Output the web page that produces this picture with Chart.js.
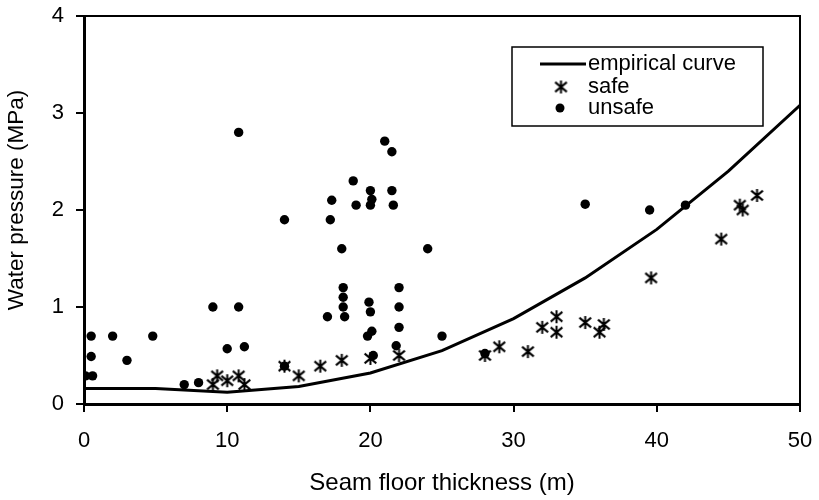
<!DOCTYPE html>
<html>
<head>
<meta charset="utf-8">
<script src="https://cdn.jsdelivr.net/npm/chart.js@4"></script>
<style>
  html, body { margin: 0; padding: 0; background: #fff; }
  #wrap { width: 819px; height: 500px; }
</style>
</head>
<body>
<div id="wrap"><canvas id="chart" width="819" height="500"></canvas></div>
<script>
// empirical curve
const curveX = [0, 5, 10, 15, 20, 25, 30, 35, 40, 45, 50];
const curveY = [0.16, 0.16, 0.12, 0.18, 0.32, 0.55, 0.88, 1.30, 1.80, 2.40, 3.08];

// safe cases
const safeX = [9.0, 9.3, 10.0, 10.8, 11.2, 14.0, 15.0, 16.5, 18.0, 20.0, 22.0, 28.0, 29.0, 31.0, 32.0, 33.0, 33.0, 35.0, 36.0, 36.3, 39.6, 44.5, 45.8, 46.0, 47.0];
const safeY = [0.20, 0.29, 0.24, 0.29, 0.20, 0.39, 0.29, 0.39, 0.45, 0.47, 0.50, 0.50, 0.59, 0.54, 0.79, 0.90, 0.74, 0.84, 0.74, 0.82, 1.30, 1.70, 2.05, 2.00, 2.15];

// unsafe cases
const unsafeX = [10.8, 9.0, 10.8, 0.5, 2.0, 4.8, 10.0, 11.2, 0.5, 3.0, 0.1, 0.6, 7.0, 8.0,
  21.0, 21.5, 18.8, 20.0, 21.5, 17.3, 20.1, 19.0, 20.0, 21.6, 14.0, 17.2, 18.0, 24.0,
  18.1, 22.0, 18.1, 18.1, 22.0, 19.9, 17.0, 18.2, 20.0, 22.0, 20.1, 19.8, 21.8, 20.2,
  14.0, 25.0, 28.0, 35.0, 39.5, 42.0];
const unsafeY = [2.80, 1.00, 1.00, 0.70, 0.70, 0.70, 0.57, 0.59, 0.49, 0.45, 0.29, 0.29, 0.20, 0.22,
  2.71, 2.60, 2.30, 2.20, 2.20, 2.10, 2.11, 2.05, 2.05, 2.05, 1.90, 1.90, 1.60, 1.60,
  1.20, 1.20, 1.10, 1.00, 1.00, 1.05, 0.90, 0.90, 0.95, 0.79, 0.75, 0.70, 0.60, 0.50,
  0.39, 0.70, 0.52, 2.06, 2.00, 2.05];

const xTicks = [0, 10, 20, 30, 40, 50];
const yTicks = [0, 1, 2, 3, 4];
const legendLabels = ['empirical curve', 'safe', 'unsafe'];
const yTitle = 'Water pressure (MPa)';

const FONT = '"Liberation Sans", Arial, sans-serif';

function pts(xs, ys) { return xs.map((x, i) => ({ x, y: ys[i] })); }

// Excel-like star marker: X with a vertical bar
function makeStar(size) {
    const c = document.createElement('canvas');
    c.width = size; c.height = size;
    const g = c.getContext('2d');
    const m = size / 2, r = size / 2 - 1;
    g.strokeStyle = '#000';
    g.lineWidth = 2;
    g.beginPath();
    g.moveTo(m, m - r); g.lineTo(m, m + r);
    g.moveTo(m - r * 0.9, m - r * 0.75); g.lineTo(m + r * 0.9, m + r * 0.75);
    g.moveTo(m - r * 0.9, m + r * 0.75); g.lineTo(m + r * 0.9, m - r * 0.75);
    g.stroke();
    return c;
}
const starImg = makeStar(15);

const frame = {
    id: 'frame',
    beforeDatasetsDraw(chart) {
        const { ctx, chartArea: a } = chart;
        ctx.save();
        ctx.strokeStyle = '#000';
        ctx.lineWidth = 2;
        ctx.beginPath();
        ctx.moveTo(a.left, a.top); ctx.lineTo(a.right, a.top); ctx.lineTo(a.right, a.bottom);
        ctx.stroke();
        // y axis title, centred a little above the plot middle like the original
        ctx.fillStyle = '#000';
        ctx.font = '22.5px ' + FONT;
        ctx.translate(17, 200);
        ctx.rotate(-Math.PI / 2);
        ctx.textAlign = 'center';
        ctx.textBaseline = 'middle';
        ctx.fillText(yTitle, 0, 0);
        ctx.restore();
    },
    afterDraw(chart) {
        const ctx = chart.ctx;
        ctx.save();
        ctx.fillStyle = '#fff';
        ctx.fillRect(512, 47, 251, 79);
        ctx.strokeStyle = '#000';
        ctx.lineWidth = 1.5;
        ctx.strokeRect(512, 47, 251, 79);
        ctx.lineWidth = 3;
        ctx.beginPath(); ctx.moveTo(540, 64); ctx.lineTo(586, 64); ctx.stroke();
        ctx.drawImage(starImg, 561 - 7.5, 87 - 7.5);
        ctx.fillStyle = '#000';
        ctx.beginPath(); ctx.arc(560, 108, 4.5, 0, Math.PI * 2); ctx.fill();
        ctx.font = '22px ' + FONT;
        ctx.textBaseline = 'middle';
        legendLabels.forEach((t, i) => ctx.fillText(t, 588, [64, 87, 108][i]));
        ctx.restore();
    }
};

new Chart(document.getElementById('chart'), {
    type: 'scatter',
    data: {
        datasets: [
            { label: legendLabels[0], data: pts(curveX, curveY), showLine: true, borderColor: '#000', borderWidth: 3, pointRadius: 0, tension: 0, order: 3 },
            { label: legendLabels[1], data: pts(safeX, safeY), pointStyle: starImg, pointRadius: 7, order: 2 },
            { label: legendLabels[2], data: pts(unsafeX, unsafeY), pointStyle: 'circle', pointRadius: 4.7, backgroundColor: '#000', borderColor: '#000', borderWidth: 0, order: 1 }
        ]
    },
    options: {
        responsive: false,
        animation: false,
        layout: { padding: { top: 16, right: 19, left: 0, bottom: 0 } },
        plugins: { legend: { display: false }, tooltip: { enabled: false } },
        scales: {
            x: {
                type: 'linear', min: 0, max: 50,
                afterBuildTicks: s => { s.ticks = xTicks.map(v => ({ value: v })); },
                afterFit: s => { s.height = 500 - 404; s.paddingLeft = 0; s.paddingRight = 0; },
                border: { display: true, color: '#000', width: 3 },
                grid: { drawOnChartArea: false, drawTicks: true, tickLength: 8, color: '#000', lineWidth: 2 },
                ticks: { color: '#000', font: { family: FONT, size: 22 }, padding: 16, maxRotation: 0 },
                title: { display: true, text: 'Seam floor thickness (m)', color: '#000', font: { family: FONT, size: 24 }, padding: { top: 4, bottom: 2 } }
            },
            y: {
                type: 'linear', min: 0, max: 4,
                afterBuildTicks: s => { s.ticks = yTicks.map(v => ({ value: v })); },
                afterFit: s => { s.width = 84; s.paddingTop = 0; s.paddingBottom = 0; },
                border: { display: true, color: '#000', width: 3 },
                grid: { drawOnChartArea: false, drawTicks: true, tickLength: 8, color: '#000', lineWidth: 2 },
                ticks: { color: '#000', font: { family: FONT, size: 22 }, padding: 12 },
                title: { display: false }
            }
        }
    },
    plugins: [frame]
});
</script>
</body>
</html>
